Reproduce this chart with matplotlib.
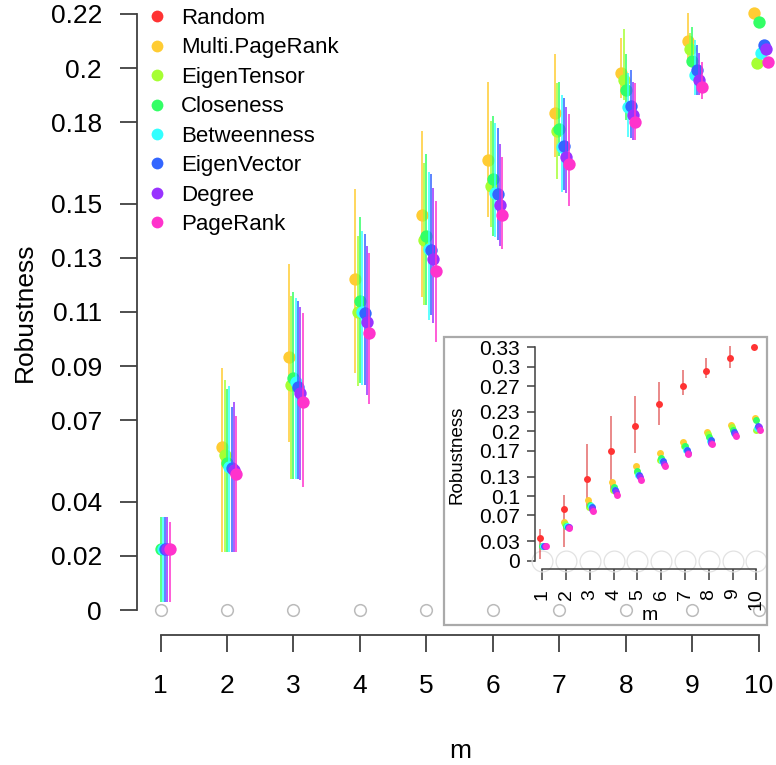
import matplotlib
matplotlib.use("Agg")
import matplotlib.pyplot as plt
from matplotlib.lines import Line2D
from matplotlib.patches import Rectangle
import numpy as np

plt.rcParams['font.family'] = ['Liberation Sans', 'DejaVu Sans']

nan = float('nan')

m = [1, 2, 3, 4, 5, 6, 7, 8, 9, 10]
methods = ["Random", "Multi.PageRank", "EigenTensor", "Closeness",
           "Betweenness", "EigenVector", "Degree", "PageRank"]
colors = ["#FF3333", "#FFCC33", "#A6FF33", "#33FF66",
          "#33FFFF", "#3366FF", "#9933FF", "#FF33CC"]

# robustness: mean, lower and upper end of the bars, per method
random_mean = [0.0346, 0.0795, 0.1258, 0.1696, 0.2083, 0.2423, 0.2701, 0.2938, 0.3139, 0.3300]
random_lo = [0.0020, 0.0217, 0.0835, 0.1093, 0.1670, 0.2098, 0.2562, 0.2820, 0.2975, 0.3300]
random_hi = [0.0485, 0.1016, 0.1805, 0.2237, 0.2547, 0.2758, 0.2949, 0.3130, 0.3320, 0.3300]

mpr_mean = [nan, 0.0600, 0.0935, 0.1220, 0.1458, 0.1660, 0.1835, 0.1983, 0.2100, 0.2204]
mpr_lo = [nan, 0.0215, 0.0621, 0.0873, 0.1156, 0.1451, 0.1673, 0.1890, 0.2030, 0.2204]
mpr_hi = [nan, 0.0892, 0.1277, 0.1552, 0.1769, 0.1950, 0.2052, 0.2110, 0.2202, 0.2204]

et_mean = [nan, 0.0572, 0.0830, 0.1100, 0.1365, 0.1565, 0.1769, 0.1956, 0.2069, 0.2017]
et_lo = [nan, 0.0215, 0.0482, 0.0827, 0.1125, 0.1414, 0.1589, 0.1882, 0.2036, 0.2017]
et_hi = [nan, 0.0849, 0.1159, 0.1380, 0.1648, 0.1806, 0.1943, 0.2143, 0.2130, 0.2017]

clo_mean = [0.0225, 0.0541, 0.0855, 0.1141, 0.1380, 0.1589, 0.1774, 0.1919, 0.2026, 0.2171]
clo_lo = [0.0031, 0.0215, 0.0482, 0.0836, 0.1125, 0.1380, 0.1675, 0.1810, 0.2010, 0.2171]
clo_hi = [0.0344, 0.0814, 0.1172, 0.1449, 0.1683, 0.1823, 0.1950, 0.2050, 0.2153, 0.2171]

btw_mean = [0.0225, 0.0529, 0.0843, 0.1100, 0.1331, 0.1538, 0.1710, 0.1857, 0.1974, 0.2054]
btw_lo = [0.0031, 0.0215, 0.0482, 0.0830, 0.1070, 0.1375, 0.1544, 0.1747, 0.1900, 0.2054]
btw_hi = [0.0344, 0.0828, 0.1150, 0.1400, 0.1617, 0.1798, 0.1900, 0.1980, 0.2103, 0.2054]

eig_mean = [0.0225, 0.0523, 0.0824, 0.1095, 0.1328, 0.1535, 0.1712, 0.1860, 0.1993, 0.2085]
eig_lo = [0.0031, 0.0215, 0.0482, 0.0830, 0.1089, 0.1365, 0.1550, 0.1742, 0.1900, 0.2085]
eig_hi = [0.0344, 0.0750, 0.1141, 0.1387, 0.1609, 0.1777, 0.1888, 0.1993, 0.2085, 0.2085]

deg_mean = [0.0225, 0.0517, 0.0802, 0.1062, 0.1294, 0.1494, 0.1670, 0.1827, 0.1956, 0.2069]
deg_lo = [0.0031, 0.0215, 0.0480, 0.0793, 0.1058, 0.1343, 0.1540, 0.1734, 0.1900, 0.2069]
deg_hi = [0.0344, 0.0766, 0.1119, 0.1343, 0.1556, 0.1720, 0.1855, 0.1950, 0.2054, 0.2069]

pr_mean = [0.0225, 0.0501, 0.0769, 0.1023, 0.1251, 0.1458, 0.1645, 0.1800, 0.1929, 0.2021]
pr_lo = [0.0031, 0.0215, 0.0455, 0.0759, 0.0988, 0.1331, 0.1491, 0.1734, 0.1884, 0.2021]
pr_hi = [0.0326, 0.0717, 0.1095, 0.1319, 0.1510, 0.1673, 0.1830, 0.1944, 0.2023, 0.2021]

main_ticks = [0, 0.02, 0.04, 0.07, 0.09, 0.11, 0.13, 0.15, 0.18, 0.2, 0.22]
main_labels = ["0", "0.02", "0.04", "0.07", "0.09", "0.11", "0.13", "0.15", "0.18", "0.2", "0.22"]
inset_ticks = [0, 0.03, 0.07, 0.1, 0.13, 0.17, 0.2, 0.23, 0.27, 0.3, 0.33]
inset_labels = ["0", "0.03", "0.07", "0.1", "0.13", "0.17", "0.2", "0.23", "0.27", "0.3", "0.33"]

means = [random_mean, mpr_mean, et_mean, clo_mean, btw_mean, eig_mean, deg_mean, pr_mean]
lows = [random_lo, mpr_lo, et_lo, clo_lo, btw_lo, eig_lo, deg_lo, pr_lo]
highs = [random_hi, mpr_hi, et_hi, clo_hi, btw_hi, eig_hi, deg_hi, pr_hi]

W, H = 776, 765
fig = plt.figure(figsize=(W / 100, H / 100), dpi=100)


def px_box(l, t, r, b):
    return [l / W, 1 - b / H, (r - l) / W, (b - t) / H]


axcol = "#404040"
xm = np.array(m, dtype=float)
step = 0.035

# ---------------- main plot
ax = fig.add_axes(px_box(137, 0, 776, 634.5))
ax.set_xlim(0.6466, 10.256)
ax.set_ylim(-0.00904, 0.2251)
ax.patch.set_alpha(0)
for s in ["top", "right"]:
    ax.spines[s].set_visible(False)
ax.spines["left"].set_bounds(0, 0.22)
ax.spines["bottom"].set_bounds(1, 10)
for s in ["left", "bottom"]:
    ax.spines[s].set_color(axcol)
    ax.spines[s].set_linewidth(1.3)

ax.plot(xm, np.zeros(len(m)), "o", mfc="none", mec="#BBBBBB", ms=8.4, mew=1.1)

for i in range(1, len(methods)):
    x = xm + (i - 3) * step
    ax.vlines(x, lows[i], highs[i], color=colors[i], alpha=0.8, lw=1.4)
    ax.plot(x, means[i], "o", color=colors[i], ms=8.9, mec="none")

ax.set_yticks(main_ticks)
ax.set_yticklabels(main_labels)
ax.set_xticks(m)
ax.set_xticklabels([str(v) for v in m])
ax.tick_params(axis="y", length=12.2, width=1.3, color=axcol, pad=13, labelsize=19)
ax.tick_params(axis="x", length=12.2, width=1.3, color=axcol, pad=16, labelsize=19)

ax.set_ylabel("Robustness", fontsize=19)
ax.yaxis.label.set_va("center")
ax.yaxis.label.set_rotation_mode("anchor")
ax.yaxis.set_label_coords(-0.1753, 0.508)
ax.set_xlabel("m", fontsize=19)
ax.xaxis.label.set_va("baseline")
ax.xaxis.set_label_coords(0.506, -0.1946)

handles = [Line2D([], [], ls="none", marker="o", color=c, ms=8.5, mec="none") for c in colors]
fig.legend(handles, methods, loc="upper left", bbox_to_anchor=(146 / W, 1 - 8 / H),
           frameon=False, fontsize=16, handlelength=1.0, handletextpad=0.59,
           labelspacing=0.38, borderpad=0, borderaxespad=0)

# ---------------- inset
fig.add_artist(Rectangle((444 / W, 1 - 625 / H), (767 - 444) / W, (625 - 337) / H,
                         transform=fig.transFigure, fill=False, ec="#AAAAAA", lw=1.6))
axin = fig.add_axes(px_box(535, 338, 766, 569.3))
axin.set_xlim(0.693, 10.40)
axin.set_ylim(-0.0133, 0.3444)
axin.patch.set_alpha(0)
for s in ["top", "right"]:
    axin.spines[s].set_visible(False)
axin.spines["left"].set_bounds(0, 0.33)
axin.spines["bottom"].set_bounds(1, 10)
for s in ["left", "bottom"]:
    axin.spines[s].set_color(axcol)
    axin.spines[s].set_linewidth(1.1)

axin.plot(xm, np.zeros(len(m)), "o", mfc="none", mec="#E2E2E2", ms=15, mew=0.9, clip_on=False)

xr = xm + (0 - 3) * step
axin.vlines(xr, random_lo, random_hi, color="#DD4444", alpha=0.8, lw=1.1)
for i in range(len(methods)):
    x = xm + (i - 3) * step
    axin.plot(x, means[i], "o", color=colors[i], ms=5, mec="none", clip_on=False)

axin.set_yticks(inset_ticks)
axin.set_yticklabels(inset_labels)
axin.set_xticks(m)
axin.set_xticklabels([str(v) for v in m])
axin.tick_params(axis="y", length=5.8, width=1.1, color=axcol, pad=5, labelsize=15)
axin.tick_params(axis="x", length=8, width=1.1, color=axcol, pad=6, labelsize=14, labelrotation=90)

axin.set_ylabel("Robustness", fontsize=13.5)
axin.yaxis.label.set_va("center")
axin.yaxis.label.set_rotation_mode("anchor")
axin.yaxis.set_label_coords(-0.339, 0.494)
axin.set_xlabel("m", fontsize=14)
axin.xaxis.label.set_va("baseline")
axin.xaxis.set_label_coords(0.498, -0.219)

fig.savefig("out.png", dpi=100)
